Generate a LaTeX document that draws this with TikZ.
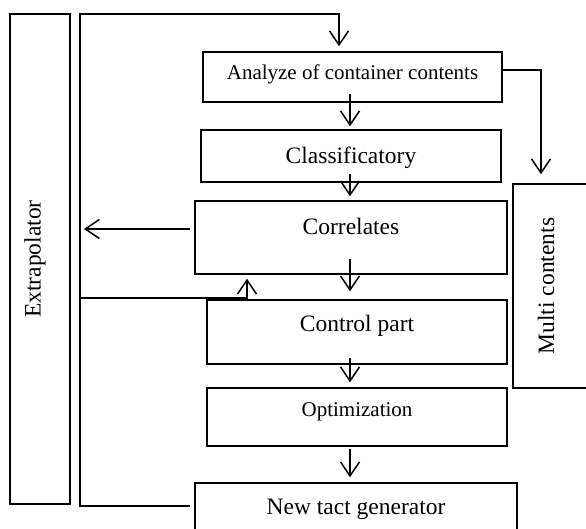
\documentclass[tikz,border=0pt]{standalone}
\usepackage{fontspec}
\setmainfont{Liberation Serif}
\usetikzlibrary{arrows.meta, calc}

\begin{document}
\begin{tikzpicture}[x=1pt, y=-1pt,
	box/.style={draw, line width=1.5pt, inner sep=0pt, text height=16pt,
		font=\fontsize{23.5}{28}\selectfont},
	small/.style={font=\fontsize{21}{25}\selectfont},
	arr/.style={-{Straight Barb[length=14pt,width=19pt]}, line width=1.5pt}]
	\useasboundingbox (0,0) rectangle (586,529);
	\clip (0,0) rectangle (586,529);

	% blocks
	\node[box, rotate=90, minimum width=490pt, minimum height=60pt, text depth=15pt] (extra) at (40,259) {Extrapolator};
	\node[box, small, minimum width=299pt, minimum height=50pt, text depth=11pt] (ana) at (352.5,77) {Analyze of container contents};
	\node[box, minimum width=300pt, minimum height=52pt, text depth=0pt] (cls) at (351,156) {Classificatory};
	\node[box, minimum width=312pt, minimum height=73pt, text depth=21pt] (corr) at (351,237.5) {Correlates};
	\node[box, minimum width=300pt, minimum height=64pt, text depth=18pt] (ctrl) at (357,332) {Control part};
	\node[box, small, minimum width=300pt, minimum height=58pt, text depth=18pt] (opt) at (357,417) {Optimization};
	\node[box, minimum width=322pt, minimum height=57pt, text depth=11pt] (nt) at (356,511.5) {New tact generator};
	\node[box, rotate=90, minimum width=204pt, minimum height=80pt, text depth=14pt] (multi) at (553,286) {Multi contents};
	\coordinate (rail) at (80,14);

	% main chain
	\draw[arr] ($(ana.south)+(-2.5,-9)$) -- ($(cls.north)+(-1,-3)$);
	\draw[arr] ($(cls.south)+(-1,-9)$) -- ($(corr.north)+(-1,-4)$);
	\draw[arr] ($(corr.south)+(-1,-16)$) -- ($(ctrl.north)+(-7,-8)$);
	\draw[arr] ($(ctrl.south)+(-7,-7)$) -- ($(opt.north)+(-7,-5)$);
	\draw[arr] ($(opt.south)+(-7,2)$) -- ($(nt.north)+(-6,-5)$);
	\draw[arr] ($(ana.east)+(0,-7)$) -| ($(multi.east)+(-12,-9)$);

	% feedback
	\draw[arr] ($(nt.west)+(-4,-5.5)$) -| (rail) -| ($(ana.north)+(-13.5,-5)$);
	\draw[arr] ($(corr.west)+(-4,-8.5)$) -- ($(corr.west -| rail)+(4,-8.5)$);
	\draw[arr] ($(corr.south -| rail)+(0,23)$) -| ($(corr.south)+(-104,4)$);
\end{tikzpicture}
\end{document}
